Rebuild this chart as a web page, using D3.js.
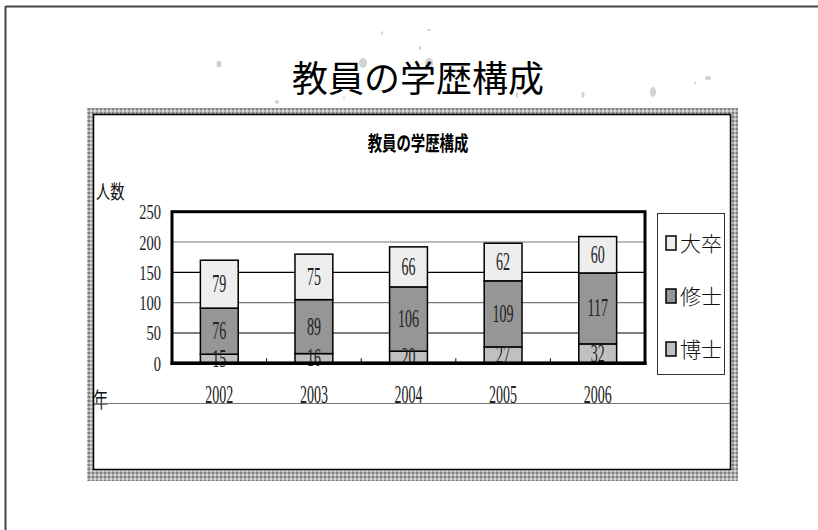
<!DOCTYPE html>
<html><head><meta charset="utf-8">
<script src="https://cdn.jsdelivr.net/npm/d3@7"></script>
<style>body{margin:0;background:#fff}</style></head>
<body><svg id="c" width="818" height="530"></svg>
<script>
const slideTitle = "教員の学歴構成";
const chartTitle = "教員の学歴構成";
const years = ["2002","2003","2004","2005","2006"];
const seriesKeys = ["博士","修士","大卒"];
const hakase = [15,16,20,27,32];
const shushi = [76,89,106,109,117];
const daisotsu = [79,75,66,62,60];
const yTicks = [0,50,100,150,200,250];
const seriesColors = ["#c0c0c0","#969696","#eeeeee"];
const yLabel = "人数";
const xLabel = "年";

const svg = d3.select("#c");
const serif = "'Liberation Serif','DejaVu Serif',serif";
const cjk = "'Noto Sans CJK JP','Noto Sans CJK SC',sans-serif";

// slide border (top & left)
svg.append("line").attr("x1",6).attr("y1",6.5).attr("x2",818).attr("y2",6.5).attr("stroke","#444").attr("stroke-width",2);
svg.append("line").attr("x1",5.5).attr("y1",6).attr("x2",5.5).attr("y2",530).attr("stroke","#444").attr("stroke-width",2);

// decorative specks
const specks = [[219,64,2.5,3.5],[382,33,1,2],[429,30,2,1],[420,48,1.5,2],[429,63,4,5],[363,63,4,5],[344,98,1,1],[277,102,2,2],[517,95,1,3],[583,95,1.5,3],[653,92,3,5],[695,83,1,1.5],[708,78,3,2]];
svg.append("g").selectAll("ellipse").data(specks).join("ellipse")
  .attr("cx",d=>d[0]).attr("cy",d=>d[1]).attr("rx",d=>d[2]).attr("ry",d=>d[3])
  .attr("fill","#d2d2d2");

// slide title
svg.append("text").attr("x",418).attr("y",92).attr("text-anchor","middle")
  .attr("font-family",cjk).attr("font-size",36).attr("fill","#000").text(slideTitle);

// frame pattern
const defs = svg.append("defs");
const pat = defs.append("pattern").attr("id","chk").attr("width",4).attr("height",4).attr("patternUnits","userSpaceOnUse");
pat.append("rect").attr("width",4).attr("height",4).attr("fill","#b0b0b0");
pat.append("rect").attr("width",2).attr("height",2).attr("fill","#808080");
pat.append("rect").attr("x",2).attr("y",2).attr("width",2).attr("height",2).attr("fill","#d8d8d8");

svg.append("rect").attr("x",87).attr("y",108).attr("width",651).attr("height",373).attr("fill","url(#chk)");
svg.append("rect").attr("x",93.5).attr("y",114.5).attr("width",637).attr("height",355).attr("fill","#fff").attr("stroke","#000").attr("stroke-width",1.5);

// chart title
svg.append("text").attr("transform","translate(418,151) scale(0.72,1)").attr("text-anchor","middle")
  .attr("font-family",cjk).attr("font-weight","bold").attr("font-size",20).text(chartTitle);

// scales
const x = d3.scaleBand().domain(years).range([172,645]).paddingInner(0.6).paddingOuter(0.3);
const xc = d3.scaleBand().domain(years).range([172,645]);
const y = d3.scaleLinear().domain([0,250]).range([363.3,211.7]);

// gridlines
svg.append("g").selectAll("line").data(yTicks.filter(t=>t>0&&t<250)).join("line")
  .attr("x1",172).attr("x2",645).attr("y1",d=>y(d)).attr("y2",d=>y(d))
  .attr("stroke",d=>d%100===0?"#777":"#000").attr("stroke-width",1.2);

// stacked data
const rows = years.map((yr,i)=>({year:yr,"博士":hakase[i],"修士":shushi[i],"大卒":daisotsu[i]}));
const stack = d3.stack().keys(seriesKeys)(rows);

const gBars = svg.append("g");
stack.forEach((s,si)=>{
  gBars.append("g").selectAll("rect").data(s).join("rect")
    .attr("x",d=>x(d.data.year)).attr("width",x.bandwidth())
    .attr("y",d=>y(d[1])).attr("height",d=>y(d[0])-y(d[1]))
    .attr("fill",seriesColors[si]).attr("stroke","#000").attr("stroke-width",1.5);
});
stack.forEach((s,si)=>{
  gBars.append("g").selectAll("text").data(s).join("text")
    .attr("transform",d=>`translate(${x(d.data.year)+x.bandwidth()/2},${(y(d[0])+y(d[1]))/2+8}) scale(0.56,1)`)
    .attr("text-anchor","middle").attr("font-family",serif).attr("font-size",25).attr("fill","#222")
    .text(d=>d[1]-d[0]);
});

// plot border
svg.append("rect").attr("x",172).attr("y",y(250)).attr("width",473).attr("height",y(0)-y(250))
  .attr("fill","none").attr("stroke","#000").attr("stroke-width",3);
svg.append("line").attr("x1",170.5).attr("x2",646.5).attr("y1",y(0)).attr("y2",y(0)).attr("stroke","#000").attr("stroke-width",3.5);

// category boundary ticks (inside)
svg.append("g").selectAll("line").data(years.slice(1)).join("line")
  .attr("x1",d=>xc(d)).attr("x2",d=>xc(d)).attr("y1",y(0)).attr("y2",y(0)-5)
  .attr("stroke","#000").attr("stroke-width",1);

// y tick labels
svg.append("g").selectAll("text").data(yTicks).join("text")
  .attr("transform",d=>`translate(161,${y(d)+7.5}) scale(0.66,1)`)
  .attr("text-anchor","end").attr("font-family",serif).attr("font-size",22).attr("fill","#222")
  .text(d=>d);

// x labels
svg.append("g").selectAll("text").data(years).join("text")
  .attr("transform",d=>`translate(${xc(d)+xc.bandwidth()/2},403) scale(0.56,1)`)
  .attr("text-anchor","middle").attr("font-family",serif).attr("font-size",25).attr("fill","#222")
  .text(d=>d);

// axis titles
svg.append("text").attr("transform","translate(96,199) scale(0.75,1)")
  .attr("font-family",cjk).attr("font-size",19).attr("fill","#111").text(yLabel);
svg.append("text").attr("transform","translate(93,407) scale(0.72,1)")
  .attr("font-family",cjk).attr("font-size",21).attr("fill","#111").text(xLabel);
svg.append("line").attr("x1",94).attr("x2",730).attr("y1",403.5).attr("y2",403.5).attr("stroke","#777").attr("stroke-width",1);

// legend
svg.append("rect").attr("x",657.5).attr("y",213.5).attr("width",67).attr("height",161)
  .attr("fill","#fff").attr("stroke","#333").attr("stroke-width",1);
const legendOrder = [2,1,0];
const lg = svg.append("g").selectAll("g").data(legendOrder).join("g")
  .attr("transform",(d,i)=>`translate(666,${243+i*53})`);
lg.append("rect").attr("x",0).attr("y",-7).attr("width",10).attr("height",14)
  .attr("fill",d=>seriesColors[d]).attr("stroke","#000").attr("stroke-width",1.5);
lg.append("text").attr("x",14).attr("y",8).attr("font-family",cjk).attr("font-size",21).attr("font-weight",300).attr("fill","#111")
  .text(d=>seriesKeys[d]);
</script></body></html>
